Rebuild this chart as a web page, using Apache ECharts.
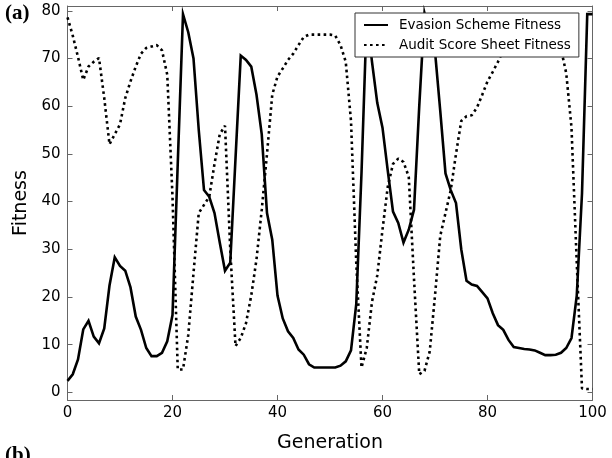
<!DOCTYPE html>
<html>
<head>
<meta charset="utf-8">
<script src="https://cdn.jsdelivr.net/npm/echarts@6/dist/echarts.min.js"></script>
<style>
  html, body { margin: 0; padding: 0; background: #fff; }
  #chart { width: 612px; height: 458px; }
</style>
</head>
<body>
<div id="chart"></div>
<script>
// generation 0..100
const evasionFitness = [
  2.4, 3.8, 6.9, 13.2, 15, 11.7, 10.3, 13.4, 22.4, 28.3,
  26.5, 25.5, 22, 15.9, 13.1, 9.3, 7.6, 7.6, 8.3, 10.7,
  16.2, 48, 79.3, 75.5, 70, 55, 42.4, 41, 37.6, 31.4,
  25.5, 27.2, 49, 70.6, 69.7, 68.3, 62.4, 54.1, 37.6, 32,
  20.3, 15.5, 12.8, 11.4, 9, 7.9, 5.9, 5.2, 5.2, 5.2,
  5.2, 5.2, 5.6, 6.5, 8.8, 18.5, 46, 79, 69.3, 60.7,
  55.5, 46.5, 37.9, 35.5, 31.4, 34.1, 38.3, 60, 79.5, 75,
  71.5, 59, 45.9, 42.4, 39.7, 30, 23.4, 22.6, 22.3, 21,
  19.7, 16.6, 14.1, 13.1, 11, 9.5, 9.3, 9.1, 9, 8.8,
  8.3, 7.8, 7.8, 7.9, 8.3, 9.3, 11.4, 20.3, 41.7, 79.3,
  79.3
];
const auditFitness = [
  78.6, 74.8, 70.3, 65.5, 68.3, 69.3, 70.1, 61.7, 52, 54.1,
  56.2, 61.7, 65.2, 68.3, 71, 72.2, 72.5, 72.8, 71.7, 66.6,
  41, 4.8, 4.8, 12, 25, 37.6, 39.3, 41, 47.9, 54.1,
  55.9, 30, 9.7, 11.4, 14.5, 20.3, 27.9, 38.3, 50, 62.4,
  66.2, 67.9, 69.7, 71, 72.8, 74.5, 75, 75, 75, 75,
  75, 74.8, 72.8, 69.3, 56.9, 27.2, 5.2, 9.3, 19, 24.5,
  34.1, 43.1, 47.9, 49, 48.3, 45.2, 23.8, 3.8, 4.5, 8.6,
  20.3, 32.8, 37.6, 42.4, 50, 56.9, 57.9, 58.1, 59.7, 62.4,
  65.2, 67.2, 69.3, 71.7, 73.5, 74.5, 75, 75, 75, 75,
  75, 75, 75, 74.5, 72, 66.9, 55.5, 27.2, 0.8, 0.7,
  0.7
];
const xTicks = [0, 20, 40, 60, 80, 100];
const yTicks = [0, 10, 20, 30, 40, 50, 60, 70, 80];

const frameColor = '#666';
const tickFont = { fontFamily: 'DejaVu Sans', fontSize: 15, color: '#000' };

const chart = echarts.init(document.getElementById('chart'), null, { renderer: 'canvas' });

const baseX = {
  type: 'value', min: 0, max: 100, interval: 20,
  axisLine: { show: true, onZero: false, lineStyle: { color: frameColor, width: 1 } },
  axisTick: { show: true, inside: true, length: 5, lineStyle: { color: frameColor } },
  splitLine: { show: false }
};
const baseY = {
  type: 'value', min: -1.6, max: 81,
  axisLine: { show: true, onZero: false, lineStyle: { color: frameColor, width: 1 } },
  axisTick: { show: true, inside: true, length: 5, customValues: yTicks, lineStyle: { color: frameColor } },
  splitLine: { show: false }
};

chart.setOption({
  animation: false,
  backgroundColor: '#fff',
  grid: { left: 67.5, right: 19.5, top: 6, bottom: 52 },
  xAxis: [
    Object.assign({}, baseX, {
      position: 'bottom',
      name: 'Generation', nameLocation: 'middle', nameGap: 34,
      nameTextStyle: { fontFamily: 'DejaVu Sans', fontSize: 19, color: '#000' },
      axisLabel: Object.assign({ margin: 6 }, tickFont)
    }),
    Object.assign({}, baseX, { position: 'top', axisLabel: { show: false } })
  ],
  yAxis: [
    Object.assign({}, baseY, {
      position: 'left',
      name: 'Fitness', nameLocation: 'middle', nameGap: 34,
      nameTextStyle: { fontFamily: 'DejaVu Sans', fontSize: 19, color: '#000' },
      axisLabel: Object.assign({ margin: 7, customValues: yTicks }, tickFont)
    }),
    Object.assign({}, baseY, { position: 'right', axisLabel: { show: false } })
  ],
  legend: {
    orient: 'vertical',
    left: 355, top: 13,
    backgroundColor: '#fff',
    borderColor: '#333', borderWidth: 1, borderRadius: 0,
    padding: [5, 8, 5, 8],
    itemWidth: 24, itemHeight: 14, itemGap: 6,
    itemStyle: { opacity: 0 },
    textStyle: { fontFamily: 'DejaVu Sans', fontSize: 13.5, color: '#000', padding: [0, 0, 0, 6] },
    data: ['Evasion Scheme Fitness', 'Audit Score Sheet Fitness']
  },
  graphic: [
    { type: 'text', left: 5, top: 3, style: { text: '(a)', font: 'bold 21px "Liberation Serif"', fill: '#000' } },
    { type: 'text', left: 5, top: 445, style: { text: '(b)', font: 'bold 21px "Liberation Serif"', fill: '#000' } }
  ],
  series: [
    {
      name: 'Evasion Scheme Fitness', type: 'line', symbol: 'none',
      data: evasionFitness.map((v, i) => [i, v]),
      lineStyle: { color: '#000', width: 2.6, type: 'solid', join: 'miter' },
      itemStyle: { color: '#000' }
    },
    {
      name: 'Audit Score Sheet Fitness', type: 'line', symbol: 'none',
      data: auditFitness.map((v, i) => [i, v]),
      lineStyle: { color: '#000', width: 2.6, type: [2.6, 3.4] },
      itemStyle: { color: '#000' }
    }
  ]
});
</script>
</body>
</html>
